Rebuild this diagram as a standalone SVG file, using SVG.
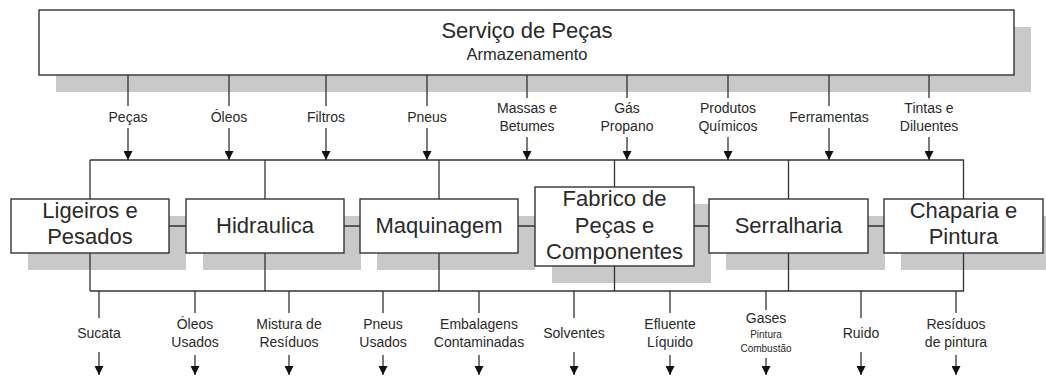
<svg xmlns="http://www.w3.org/2000/svg" width="1046" height="376" viewBox="0 0 1046 376">
<style>
.sh{fill:#c9c9c9}
.bx{fill:#fff;stroke:#333;stroke-width:1.4}
.ln{fill:none;stroke:#333;stroke-width:1.3}
.t{font-family:"Liberation Sans",Arial,sans-serif;fill:#2a2a2a;text-anchor:middle}
.big{font-size:22px}
.lb{font-size:14px}
.sm{font-size:10px}
</style>
<defs>
<marker id="ah" markerWidth="9" markerHeight="9" refX="9" refY="4.5" orient="auto" markerUnits="userSpaceOnUse">
<path d="M0,0 L9,4.5 L0,9 z" fill="#111"/>
</marker>
</defs>
<rect width="1046" height="376" fill="#fff"/>
<g id="shadows">
<rect class="sh" x="56" y="27" width="975" height="65"/>
<rect class="sh" x="28" y="216" width="158" height="54"/>
<rect class="sh" x="203" y="216" width="158" height="54"/>
<rect class="sh" x="377" y="216" width="158" height="54"/>
<rect class="sh" x="552" y="204" width="159" height="79"/>
<rect class="sh" x="726" y="216" width="159" height="54"/>
<rect class="sh" x="901" y="216" width="159" height="54"/>
</g>
<g id="connectors">
<path class="ln" d="M90,160 H964"/>
<path class="ln" d="M90,160 V199 M265,160 V199 M439,160 V199 M614.5,160 V187 M788.5,160 V199 M963.5,160 V199"/>
<path class="ln" d="M169,226 H186 M344,226 H360 M518,226 H535 M694,226 H709 M868,226 H884"/>
<path class="ln" d="M90,291 H964"/>
<path class="ln" d="M90,253 V291 M265,253 V291 M439,253 V291 M614.5,266 V291 M788.5,253 V291 M963.5,253 V291"/>
<path class="ln" d="M128,75 V106 M229,75 V106 M326,75 V106 M427,75 V106 M829,75 V106"/>
<path class="ln" d="M128,128 V160" marker-end="url(#ah)"/>
<path class="ln" d="M229,128 V160" marker-end="url(#ah)"/>
<path class="ln" d="M326,128 V160" marker-end="url(#ah)"/>
<path class="ln" d="M427,128 V160" marker-end="url(#ah)"/>
<path class="ln" d="M829,128 V160" marker-end="url(#ah)"/>
<path class="ln" d="M527,75 V98 M627,75 V98 M728,75 V98 M929,75 V98"/>
<path class="ln" d="M527,137 V160" marker-end="url(#ah)"/>
<path class="ln" d="M627,137 V160" marker-end="url(#ah)"/>
<path class="ln" d="M728,137 V160" marker-end="url(#ah)"/>
<path class="ln" d="M929,137 V160" marker-end="url(#ah)"/>
<path class="ln" d="M99,291 V318 M574,291 V318 M861,291 V318"/>
<path class="ln" d="M99,352 V375" marker-end="url(#ah)"/>
<path class="ln" d="M574,352 V375" marker-end="url(#ah)"/>
<path class="ln" d="M861,352 V375" marker-end="url(#ah)"/>
<path class="ln" d="M195,291 V313 M289,291 V313 M383,291 V313 M479,291 V313 M670,291 V313 M956,291 V313 M766,291 V310"/>
<path class="ln" d="M195,355 V375" marker-end="url(#ah)"/>
<path class="ln" d="M289,355 V375" marker-end="url(#ah)"/>
<path class="ln" d="M383,355 V375" marker-end="url(#ah)"/>
<path class="ln" d="M479,355 V375" marker-end="url(#ah)"/>
<path class="ln" d="M670,355 V375" marker-end="url(#ah)"/>
<path class="ln" d="M956,355 V375" marker-end="url(#ah)"/>
<path class="ln" d="M766,358 V375" marker-end="url(#ah)"/>
</g>
<g id="labels">
<text class="t lb" x="128" y="122">Peças</text>
<text class="t lb" x="229" y="122">Óleos</text>
<text class="t lb" x="326" y="122">Filtros</text>
<text class="t lb" x="427" y="122">Pneus</text>
<text class="t lb" x="527" y="113">Massas e</text>
<text class="t lb" x="527" y="131">Betumes</text>
<text class="t lb" x="627" y="113">Gás</text>
<text class="t lb" x="627" y="131">Propano</text>
<text class="t lb" x="728" y="113">Produtos</text>
<text class="t lb" x="728" y="131">Químicos</text>
<text class="t lb" x="829" y="122">Ferramentas</text>
<text class="t lb" x="929" y="113">Tintas e</text>
<text class="t lb" x="929" y="131">Diluentes</text>
<text class="t lb" x="99" y="338">Sucata</text>
<text class="t lb" x="195" y="329">Óleos</text>
<text class="t lb" x="195" y="347">Usados</text>
<text class="t lb" x="289" y="329">Mistura de</text>
<text class="t lb" x="289" y="347">Resíduos</text>
<text class="t lb" x="383" y="329">Pneus</text>
<text class="t lb" x="383" y="347">Usados</text>
<text class="t lb" x="479" y="329">Embalagens</text>
<text class="t lb" x="479" y="347">Contaminadas</text>
<text class="t lb" x="574" y="338">Solventes</text>
<text class="t lb" x="670" y="329">Efluente</text>
<text class="t lb" x="670" y="347">Líquido</text>
<text class="t lb" x="766" y="323">Gases</text>
<text class="t sm" x="766" y="338">Pintura</text>
<text class="t sm" x="766" y="352">Combustão</text>
<text class="t lb" x="861" y="338">Ruido</text>
<text class="t lb" x="956" y="329">Resíduos</text>
<text class="t lb" x="956" y="347">de pintura</text>
</g>
<g id="servico">
<rect class="bx" x="39" y="10" width="975" height="65"/>
<text class="t big" x="527" y="38">Serviço de Peças</text>
<text class="t" x="527" y="60" font-size="16.5">Armazenamento</text>
</g>
<g id="ligeiros">
<rect class="bx" x="11" y="199" width="158" height="54"/>
<text class="t big" x="90" y="218">Ligeiros e</text>
<text class="t big" x="90" y="244">Pesados</text>
</g>
<g id="hidraulica">
<rect class="bx" x="186" y="199" width="158" height="54"/>
<text class="t big" x="265" y="233">Hidraulica</text>
</g>
<g id="maquinagem">
<rect class="bx" x="360" y="199" width="158" height="54"/>
<text class="t big" x="439" y="233">Maquinagem</text>
</g>
<g id="fabrico">
<rect class="bx" x="535" y="187" width="159" height="79"/>
<text class="t big" x="614.5" y="206">Fabrico de</text>
<text class="t big" x="614.5" y="233">Peças e</text>
<text class="t big" x="614.5" y="259">Componentes</text>
</g>
<g id="serralharia">
<rect class="bx" x="709" y="199" width="159" height="54"/>
<text class="t big" x="788.5" y="233">Serralharia</text>
</g>
<g id="chaparia">
<rect class="bx" x="884" y="199" width="159" height="54"/>
<text class="t big" x="963.5" y="218">Chaparia e</text>
<text class="t big" x="963.5" y="244">Pintura</text>
</g>
</svg>
